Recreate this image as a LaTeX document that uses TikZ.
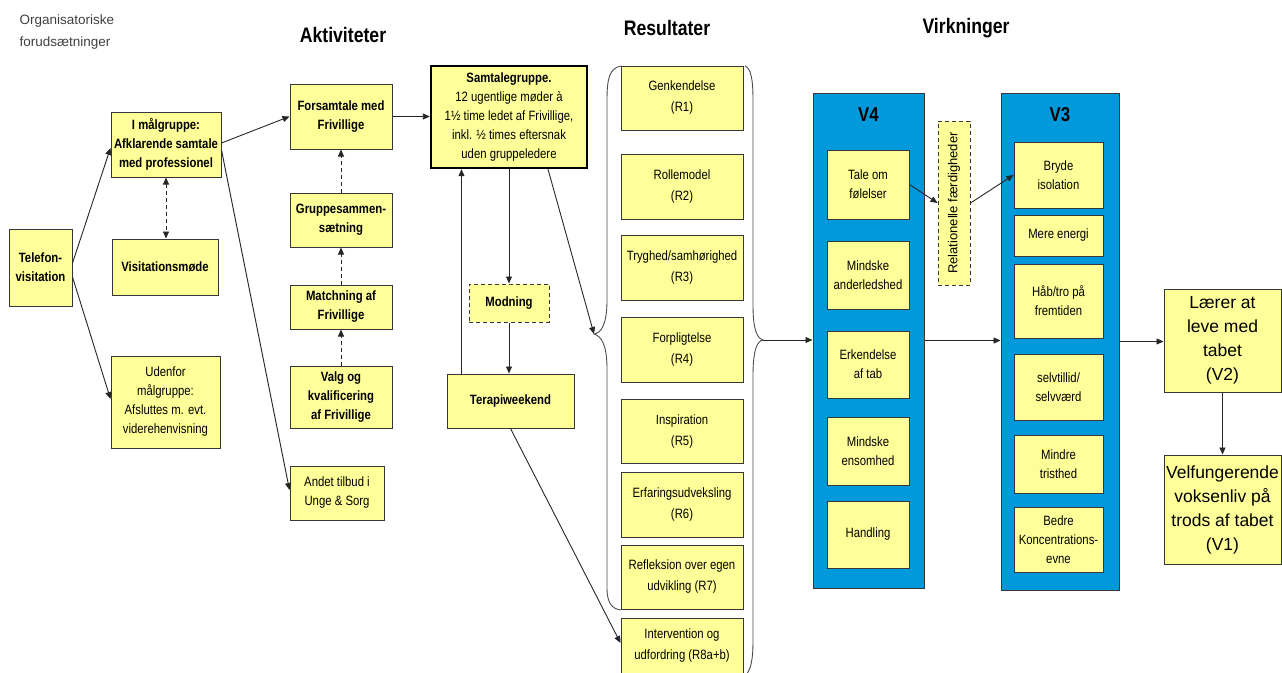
\documentclass[tikz,border=0pt]{standalone}
\usepackage{fontspec}
\setmainfont{Liberation Sans}
\newfontfamily\nar{Liberation Sans}[FakeStretch=0.84]
\usetikzlibrary{arrows.meta,calc}
\definecolor{boxyellow}{RGB}{255,255,153}
\definecolor{vblue}{RGB}{0,153,219}
\definecolor{edgegray}{RGB}{55,55,55}
\tikzset{
  box/.style={draw=edgegray, line width=1pt, fill=boxyellow, align=center, inner sep=1pt,
    font=\nar\fontsize{13.5}{19}\selectfont},
  bbox/.style={box, font=\nar\bfseries\fontsize{13.5}{19}\selectfont},
  rbox/.style={box, minimum width=122pt, font=\nar\fontsize{13.5}{21}\selectfont},
  ibox/.style={box, minimum width=82pt},
  jbox/.style={box, minimum width=89pt},
  bigbox/.style={box, minimum width=117pt, inner sep=0pt, font=\fontsize{17.5}{24}\selectfont},
  container/.style={draw=edgegray, line width=1pt, fill=vblue},
  heading/.style={font=\nar\bfseries\fontsize{21}{25}\selectfont},
  vhead/.style={font=\nar\bfseries\fontsize{20}{24}\selectfont},
  arr/.style={draw=black!85, line width=0.9pt, -{Triangle[length=7pt,width=6pt]}},
  darr/.style={arr, dash pattern=on 4pt off 3pt},
  brace/.style={draw=black!70, line width=0.9pt},
}
\begin{document}
\begin{tikzpicture}[x=1pt,y=-1pt]
\useasboundingbox (0,0) rectangle (1282,672);
\clip (0,0) rectangle (1282,672);

% headings
\node[align=left, anchor=west, text=black!75, font=\fontsize{13.5}{22}\selectfont] (org) at (16,32) {Organisatoriske\\forudsætninger};
\node[heading] (hakt) at (343,35) {Aktiviteter};
\node[heading] (hres) at (667,28) {Resultater};
\node[heading] (hvir) at (966,28) {Virkninger};

% left column
\node[bbox, minimum width=63pt, minimum height=77pt] (tel) at (40.5,267.5) {Telefon-\\visitation};
\node[bbox, minimum width=110pt, minimum height=65pt] (malg) at (166,144.5) {I målgruppe:\\Afklarende samtale\\med professionel};
\node[bbox, minimum width=106pt, minimum height=56pt] (visit) at (165,267) {Visitationsmøde};
\node[box, minimum width=109pt, minimum height=92pt] (uden) at (165.5,402) {Udenfor\\målgruppe:\\Afsluttes m. evt.\\viderehenvisning};

% activities
\node[bbox, minimum width=102pt, minimum height=65pt] (fors) at (341,116.5) {Forsamtale med\\Frivillige};
\node[bbox, minimum width=102pt, minimum height=54pt] (grup) at (341,220) {Gruppesammen-\\sætning};
\node[bbox, minimum width=102pt, minimum height=44pt] (match) at (341,307) {Matchning af\\Frivillige};
\node[bbox, minimum width=102pt, minimum height=62pt] (valg) at (341,397) {Valg og\\kvalificering\\af Frivillige};
\node[box, minimum width=94pt, minimum height=54pt] (andet) at (337,493) {Andet tilbud i\\Unge \& Sorg};
\node[box, line width=2.4pt, draw=black, minimum width=156pt, minimum height=102pt] (samt) at (509,117)
  {\textbf{Samtalegruppe.}\\12 ugentlige møder à\\1½ time ledet af Frivillige,\\inkl. ½ times eftersnak\\uden gruppeledere};
\node[bbox, dash pattern=on 4pt off 3pt, minimum width=80pt, minimum height=38pt] (modn) at (509,303) {Modning};
\node[bbox, minimum width=127pt, minimum height=54pt] (terap) at (510.5,401) {Terapiweekend};

% results
\node[rbox, minimum height=64pt] (r1) at (682,98) {Genkendelse\\(R1)};
\node[rbox, minimum height=65pt] (r2) at (682,186.5) {Rollemodel\\(R2)};
\node[rbox, minimum height=65pt] (r3) at (682,267.5) {Tryghed/samhørighed\\(R3)};
\node[rbox, minimum height=65pt] (r4) at (682,349.5) {Forpligtelse\\(R4)};
\node[rbox, minimum height=64pt] (r5) at (682,431) {Inspiration\\(R5)};
\node[rbox, minimum height=65pt] (r6) at (682,504.5) {Erfaringsudveksling\\(R6)};
\node[rbox, minimum height=64pt] (r7) at (682,577) {Refleksion over egen\\udvikling (R7)};
\node[rbox, minimum height=56pt] (r8) at (682,646) {Intervention og\\udfordring (R8a+b)};

% braces
\coordinate (lbt) at (594,334);
\coordinate (rbt) at (763,340);
\draw[brace] (621,66) .. controls (609,68) and (607,80) .. (607,100) -- (607,300)
  .. controls (607,325) and (601,333) .. (lbt)
  .. controls (601,336) and (607,344) .. (607,369) -- (607,588)
  .. controls (607,603) and (612,609) .. (621,610);
\draw[brace] (745,66) .. controls (751,68) and (753,80) .. (753,100) -- (753,305)
  .. controls (753,330) and (757,338) .. (rbt)
  .. controls (757,341) and (753,350) .. (753,376) -- (753,640)
  .. controls (753,660) and (751,670) .. (745,676);

% V4 container
\node[container, minimum width=111pt, minimum height=495pt] (v4) at (868.5,340.5) {};
\node[vhead] (v4l) at (868.5,115) {V4};
\node[ibox, minimum height=69pt] (tale) at (868,184.5) {Tale om\\følelser};
\node[ibox, minimum height=68pt] (mand) at (868,275) {Mindske\\anderledshed};
\node[ibox, minimum height=67pt] (erk) at (868,364.5) {Erkendelse\\af tab};
\node[ibox, minimum height=68pt] (mens) at (868,451) {Mindske\\ensomhed};
\node[ibox, minimum height=67pt] (hand) at (868,534.5) {Handling};

% relational skills
\node[box, dash pattern=on 4pt off 3pt, minimum width=32pt, minimum height=164pt] (rel) at (954,203) {};
\node[rotate=90, font=\fontsize{13}{15}\selectfont] (reltxt) at (rel.center) {Relationelle færdigheder};

% V3 container
\node[container, minimum width=118pt, minimum height=497pt] (v3) at (1060,341.5) {};
\node[vhead] (v3l) at (1060,115) {V3};
\node[jbox, minimum height=66pt] (bryde) at (1058.5,175) {Bryde\\isolation};
\node[jbox, minimum height=41pt] (mere) at (1058.5,235.5) {Mere energi};
\node[jbox, minimum height=74pt] (haab) at (1058.5,301) {Håb/tro på\\fremtiden};
\node[jbox, minimum height=66pt] (selv) at (1058.5,387) {selvtillid/\\selvværd};
\node[jbox, minimum height=58pt] (mtri) at (1058.5,464) {Mindre\\tristhed};
\node[jbox, minimum height=65pt] (bedre) at (1058.5,539.5) {Bedre\\Koncentrations-\\evne};

% outcomes
\node[bigbox, minimum height=103pt] (laerer) at (1222.5,340.5) {Lærer at\\leve med\\tabet\\(V2)};
\node[bigbox, minimum height=109pt] (velf) at (1222.5,509.5) {Velfungerende\\voksenliv på\\trods af tabet\\(V1)};

% connectors
\coordinate (tw) at ($(terap.north west)+(15,0)$);
\coordinate (sg) at ($(samt.south)+(39,0)$);
\draw[arr] ($(tel.east)+(0,-4.5)$) -- ($(malg.west)+(0,3.5)$);
\draw[arr] ($(tel.east)+(0,9.5)$) -- ($(uden.west)+(0,-3)$);
\draw[darr, {Triangle[length=7pt,width=6pt]}-{Triangle[length=7pt,width=6pt]}] (malg.south) -- (malg.south |- visit.north);
\draw[arr] ($(malg.east)+(0,-1.5)$) -- (fors.west);
\draw[arr] ($(malg.east)+(0,5.5)$) -- ($(andet.west)+(0,-3)$);
\draw[darr] (grup.north) -- (fors.south);
\draw[darr] (match.north) -- (grup.south);
\draw[darr] (valg.north) -- (match.south);
\draw[arr] (fors.east) -- (fors.east -| samt.west);
\draw[arr] (samt.south) -- (modn.north);
\draw[arr] (modn.south) -- (modn.south |- terap.north);
\draw[arr] (tw) -- (tw |- samt.south);
\draw[arr] (sg) -- (lbt);
\draw[arr] (terap.south) -- ($(r8.west)+(0,-3)$);
\draw[arr] (rbt) -- (rbt -| v4.west);
\draw[arr] (tale.east) -- (rel.west);
\draw[arr] (rel.east) -- (bryde.west);
\draw[arr] (v4.east) -- (v4.east -| v3.west);
\draw[arr] (v3.east) -- (v3.east -| laerer.west);
\draw[arr] (laerer.south) -- (velf.north);
\end{tikzpicture}
\end{document}
